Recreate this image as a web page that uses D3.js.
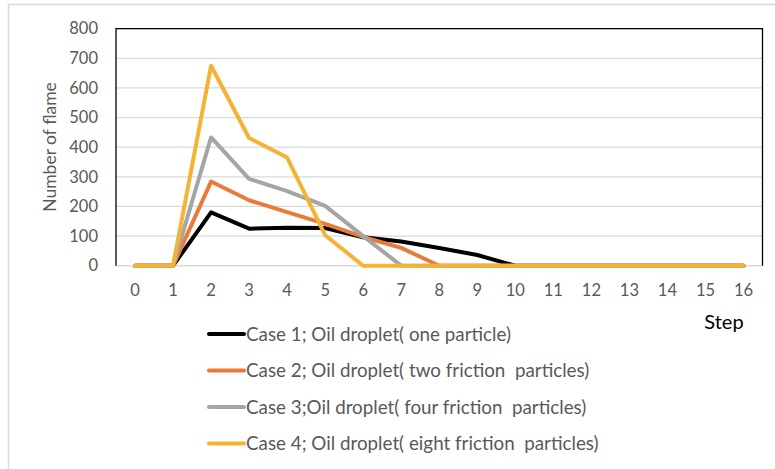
<!DOCTYPE html>
<html><head><meta charset="utf-8">
<script src="https://cdn.jsdelivr.net/npm/d3@7"></script>
<style>body{margin:0;background:#fff}svg{display:block}text{white-space:pre}</style>
</head><body><svg id="c" width="775" height="469"></svg>
<script>
const steps = [0,1,2,3,4,5,6,7,8,9,10,11,12,13,14,15,16];
const case1 = [0,0,180,125,128,127,96,82,60,36,0,0,0,0,0,0,0];
const case2 = [0,0,284,221,181,141,97,60,0,0,0,0,0,0,0,0,0];
const case3 = [0,0,433,293,252,202,100,0,0,0,0,0,0,0,0,0,0];
const case4 = [0,0,675,431,365,103,0,0,0,0,0,0,0,0,0,0,0];
const seriesNames = ["Case 1; Oil droplet( one particle)","Case 2; Oil droplet( two friction  particles)","Case 3;Oil droplet( four friction  particles)","Case 4; Oil droplet( eight friction  particles)"];
const seriesColors = ["#000000","#E97A3A","#A5A5A5","#F5B335"];
const yTicks = [0,100,200,300,400,500,600,700,800];
const series = [case1,case2,case3,case4];

const svg = d3.select("#c");
const font = "Lato, 'Open Sans', sans-serif";
svg.append("path").attr("d","M8.5,469 L8.5,4.5 L775,4.5").attr("fill","none").attr("stroke","#d9d9d9").attr("stroke-width",1.5);

const L=116, R=762.5, T=28.7, B=265.7;
const x = d3.scaleBand().domain(steps).range([L,R]);
const y = d3.scaleLinear().domain([0,800]).range([B,T]);

svg.append("g").selectAll("line").data(yTicks.filter(d=>d>0)).join("line")
 .attr("x1",L).attr("x2",R).attr("y1",d=>y(d)).attr("y2",d=>y(d))
 .attr("stroke","#d9d9d9").attr("stroke-width",1.2);
svg.append("line").attr("x1",L).attr("x2",R).attr("y1",B).attr("y2",B).attr("stroke","#d9d9d9").attr("stroke-width",1.5);
svg.append("path").attr("d",`M${L},${B} L${L},${T} L${R},${T} L${R},${B}`).attr("fill","none").attr("stroke","#000").attr("stroke-width",1.3);

const yAxis = d3.axisLeft(y).tickValues(yTicks).tickSize(0).tickPadding(18);
const gy = svg.append("g").attr("transform",`translate(${L},0)`).call(yAxis);
gy.select(".domain").remove();
gy.selectAll("text").attr("font-family",font).attr("font-size",16.5).attr("fill","#595959");

const xAxis = d3.axisBottom(x).tickSize(0).tickPadding(19);
const gx = svg.append("g").attr("transform",`translate(0,${B})`).call(xAxis);
gx.select(".domain").remove();
gx.selectAll("text").attr("font-family",font).attr("font-size",16.5).attr("fill","#595959");

const line = d3.line().x((d,i)=>x(steps[i])+x.bandwidth()/2).y(d=>y(d));
series.forEach((s,i)=>{
  svg.append("path").datum(s).attr("d",line).attr("fill","none")
    .attr("stroke",seriesColors[i]).attr("stroke-width",4).attr("stroke-linejoin","round").attr("stroke-linecap","round");
});

svg.append("text").attr("transform","translate(56,147) rotate(-90)").attr("text-anchor","middle")
  .attr("font-family",font).attr("font-size",17.5).attr("fill","#595959").text("Number of flame");
svg.append("text").attr("x",724).attr("y",329).attr("text-anchor","middle")
  .attr("font-family",font).attr("font-size",20).attr("fill","#000").text("Step");

const lg = svg.append("g");
seriesNames.forEach((n,i)=>{
  const yy = 334 + i*36.5;
  lg.append("line").attr("x1",209).attr("x2",244).attr("y1",yy).attr("y2",yy)
    .attr("stroke",seriesColors[i]).attr("stroke-width",4).attr("stroke-linecap","round");
  lg.append("text").attr("x",246).attr("y",yy+6.5).attr("font-family",font).attr("font-size",18.8)
    .attr("fill","#595959").text(n);
});
</script></body></html>
